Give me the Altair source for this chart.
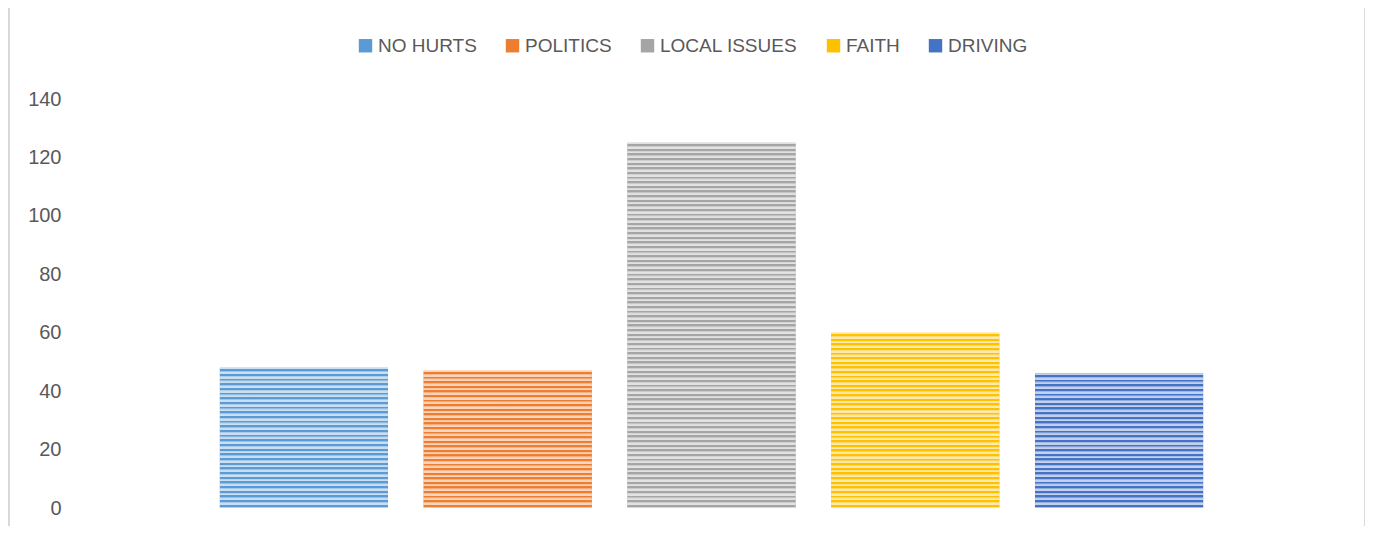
import altair as alt
import pandas as pd

categories = ["NO HURTS", "POLITICS", "LOCAL ISSUES", "FAITH", "DRIVING"]
values = [48, 47, 125, 60, 46]
colors = ["#5B9BD5", "#ED7D31", "#A5A5A5", "#FFC000", "#4472C4"]
y_ticks = [0, 20, 40, 60, 80, 100, 120, 140]

df = pd.DataFrame({"cat": categories, "val": values})

PLOT_W = 1019
PLOT_H = 409
PX_PER_UNIT = PLOT_H / 140.0
PITCH = 4.6


def tint(hex_color, f):
    r = int(hex_color[1:3], 16)
    g = int(hex_color[3:5], 16)
    b = int(hex_color[5:7], 16)
    r = int(r + (255 - r) * f)
    g = int(g + (255 - g) * f)
    b = int(b + (255 - b) * f)
    return "#%02x%02x%02x" % (r, g, b)


def stripe_gradient(base, height_px):
    n = max(1, int(round(height_px / PITCH)))
    light = tint(base, 0.68)
    mid = tint(base, 0.3)
    stops = []
    for i in range(n):
        a = i / n
        b = (i + 0.3) / n
        c = (i + 0.7) / n
        d = (i + 1) / n
        stops += [
            {"offset": a, "color": light},
            {"offset": b, "color": light},
            {"offset": b, "color": base},
            {"offset": c, "color": base},
            {"offset": c, "color": mid},
            {"offset": d, "color": light},
        ]
    return {"gradient": "linear", "x1": 0, "y1": 0, "x2": 0, "y2": 1, "stops": stops}


x_enc = alt.X("cat:N", sort=categories, axis=None,
              scale=alt.Scale(paddingInner=0.1755, paddingOuter=0.0877))
y_enc = alt.Y("val:Q", scale=alt.Scale(domain=[0, 140], nice=False),
              axis=alt.Axis(values=y_ticks, title=None, domain=False, ticks=False,
                            tickSize=0, grid=False, labelPadding=0, offset=141,
                            labelFontSize=20, labelColor="#595959",
                            labelFont="Liberation Sans"))

base = alt.Chart(df).mark_bar().encode(
    x=x_enc,
    y=y_enc,
    color=alt.Color("cat:N", sort=categories,
                    scale=alt.Scale(domain=categories, range=colors),
                    legend=alt.Legend(title=None, orient="none", direction="horizontal",
                                      legendX=154, legendY=-63,
                                      symbolType="square", symbolSize=180,
                                      symbolStrokeWidth=0,
                                      labelFontSize=19, labelColor="#595959",
                                      labelFont="Liberation Sans",
                                      labelOffset=3, columnPadding=26, padding=0)),
)

layers = [base]
for cat, val, col in zip(categories, values, colors):
    grad = stripe_gradient(col, val * PX_PER_UNIT)
    layers.append(
        alt.Chart(df).transform_filter(alt.datum.cat == cat)
        .mark_bar(color=grad)
        .encode(x=alt.X("cat:N", sort=categories, axis=None), y=alt.Y("val:Q"))
    )

border_l = alt.Chart(df).mark_rule(color="#d9d9d9", strokeWidth=1.5).encode(
    x=alt.value(-193), y=alt.value(-99), y2=alt.value(427))
border_r = alt.Chart(df).mark_rule(color="#d9d9d9", strokeWidth=1.5).encode(
    x=alt.value(1163), y=alt.value(-99), y2=alt.value(427))

chart = alt.layer(*layers, border_l, border_r).properties(
    width=PLOT_W, height=PLOT_H,
    background="white",
    autosize=alt.AutoSizeParams(type="none"),
    padding={"left": 194, "top": 91, "right": 144, "bottom": 18},
).configure_view(strokeWidth=0, stroke="transparent")

chart.save("out.html", embed_options={"renderer": "svg", "actions": False})
